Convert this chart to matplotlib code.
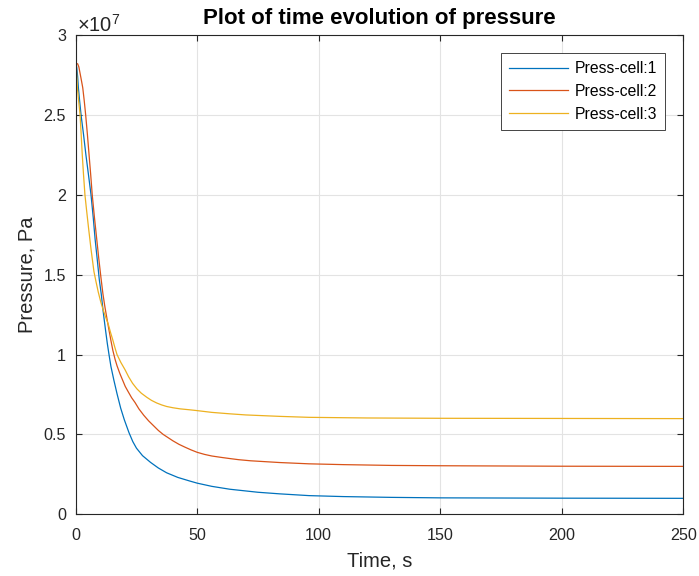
import numpy as np
import matplotlib
matplotlib.use("Agg")
import matplotlib.pyplot as plt
from matplotlib.ticker import FuncFormatter, MultipleLocator

plt.rcParams['font.family'] = ['Liberation Sans', 'DejaVu Sans']
plt.rcParams['mathtext.fontset'] = 'custom'
plt.rcParams['mathtext.rm'] = 'Liberation Sans'
plt.rcParams['mathtext.it'] = 'Liberation Sans'

# pressure, units of 1e7 Pa
t_cell1 = [0, 0.4, 0.8, 1.1, 1.6, 2.2, 3.2, 4.2, 5.3, 6.3, 7.2, 8.0, 8.9, 9.7, 10.5,
           11.3, 12.3, 13.0, 13.7, 14.5, 15.7, 17.0, 18.5, 20.0, 21.9, 23.5, 25.0,
           27.5, 30.8, 34, 37.4, 42, 47, 50, 56, 63.4, 75, 84, 96, 110, 130, 150,
           175, 200, 250]
p_cell1 = [2.82, 2.80, 2.74, 2.67, 2.59, 2.50, 2.38, 2.25, 2.12, 2.0, 1.86, 1.72, 1.59,
           1.47, 1.38, 1.27, 1.15, 1.07, 1.0, 0.925, 0.84, 0.755, 0.665, 0.592, 0.512,
           0.455, 0.414, 0.367, 0.325, 0.29, 0.26, 0.231, 0.208, 0.195, 0.175, 0.157,
           0.138, 0.128, 0.117, 0.111, 0.106, 0.103, 0.102, 0.101, 0.100]

t_cell2 = [0, 0.8, 1.3, 1.8, 2.3, 2.9, 3.5, 4.1, 4.8, 5.5, 6.2, 6.8, 7.7, 8.6, 9.5,
           10.4, 11.2, 12.0, 12.8, 13.5, 14.4, 15.3, 16.2, 17.0, 18.2, 19.3, 20.4,
           21.5, 23, 24.4, 26, 28, 30, 32, 34, 36, 38, 40, 42.5, 45, 47.5, 50, 53,
           56, 60, 63.4, 67, 72, 84, 96, 110, 130, 150, 200, 250]
p_cell2 = [2.82, 2.82, 2.80, 2.76, 2.72, 2.67, 2.59, 2.50, 2.38, 2.25, 2.12, 2.0, 1.86,
           1.73, 1.60, 1.48, 1.38, 1.30, 1.23, 1.17, 1.095, 1.025, 0.97, 0.93, 0.88,
           0.84, 0.80, 0.77, 0.73, 0.70, 0.66, 0.62, 0.585, 0.555, 0.525, 0.50, 0.48,
           0.46, 0.438, 0.42, 0.403, 0.388, 0.375, 0.365, 0.356, 0.349, 0.342, 0.335,
           0.324, 0.316, 0.311, 0.306, 0.304, 0.301, 0.300]

t_cell3 = [0, 0.3, 0.7, 1.2, 1.8, 2.2, 2.7, 3.2, 3.8, 4.5, 5.3, 6.3, 7.5, 8.3, 9.3,
           10.3, 11.3, 12.3, 13.4, 14.3, 15.2, 16.1, 17.0, 18.6, 20.3, 21.8, 23.4,
           25.2, 27, 29.2, 31.2, 33.3, 35.3, 37.4, 40, 43, 47, 50, 56, 63.4, 70, 84,
           96, 120, 150, 200, 250]
p_cell3 = [2.82, 2.78, 2.67, 2.59, 2.50, 2.39, 2.25, 2.13, 2.0, 1.90, 1.79, 1.66, 1.52,
           1.46, 1.39, 1.33, 1.28, 1.235, 1.19, 1.14, 1.095, 1.045, 1.0, 0.95, 0.905,
           0.86, 0.82, 0.785, 0.758, 0.733, 0.713, 0.697, 0.685, 0.675, 0.667, 0.66,
           0.654, 0.649, 0.638, 0.629, 0.622, 0.613, 0.607, 0.603, 0.601, 0.600, 0.599]

labels = ['Press-cell:1', 'Press-cell:2', 'Press-cell:3']
colors = ['#0072BD', '#D95319', '#EDB120']

fig = plt.figure(figsize=(6.99, 5.76), dpi=100)
ax = fig.add_axes([0.1083, 0.1071, 0.8692, 0.8321])

series = [(t_cell1, p_cell1), (t_cell2, p_cell2), (t_cell3, p_cell3)]
for (t, p), lab, c in zip(series, labels, colors):
    ax.plot(t, np.array(p) * 1e7, color=c, lw=0.9, label=lab)

ax.set_xlim(0, 250)
ax.set_ylim(0, 3e7)
ax.xaxis.set_major_locator(MultipleLocator(50))
ax.yaxis.set_major_locator(MultipleLocator(0.5e7))
ax.yaxis.set_major_formatter(FuncFormatter(lambda v, pos: '%g' % (v / 1e7)))

ax.grid(True, color='#e3e3e3', lw=0.8)
ax.set_axisbelow(True)
for s in ax.spines.values():
    s.set_color('#262626')
    s.set_linewidth(0.8)
ax.tick_params(direction='in', length=4.4, width=0.8, colors='#262626',
               labelsize=11.6, top=True, right=True)
ax.tick_params(axis='x', pad=10)
ax.tick_params(axis='y', pad=7)

ax.text(0.002, 1.0063, r'$\times10^{7}$', transform=ax.transAxes,
        fontsize=14.5, color='#262626', ha='left', va='baseline')

ax.set_xlabel('Time, s', fontsize=14.5, color='#262626', labelpad=6)
ax.set_ylabel('Pressure, Pa', fontsize=14.5, color='#262626', labelpad=5)
ax.set_title('Plot of time evolution of pressure', fontsize=16, fontweight='bold',
             pad=8)

leg = ax.legend(loc='upper right', bbox_to_anchor=(0.970, 0.962), borderaxespad=0,
                fontsize=11.3, handlelength=3.8, handletextpad=0.4, fancybox=False,
                framealpha=1, edgecolor='#262626', borderpad=0.5, labelspacing=0.5)
leg.get_frame().set_linewidth(0.6)

fig.savefig('out.png', dpi=100)
